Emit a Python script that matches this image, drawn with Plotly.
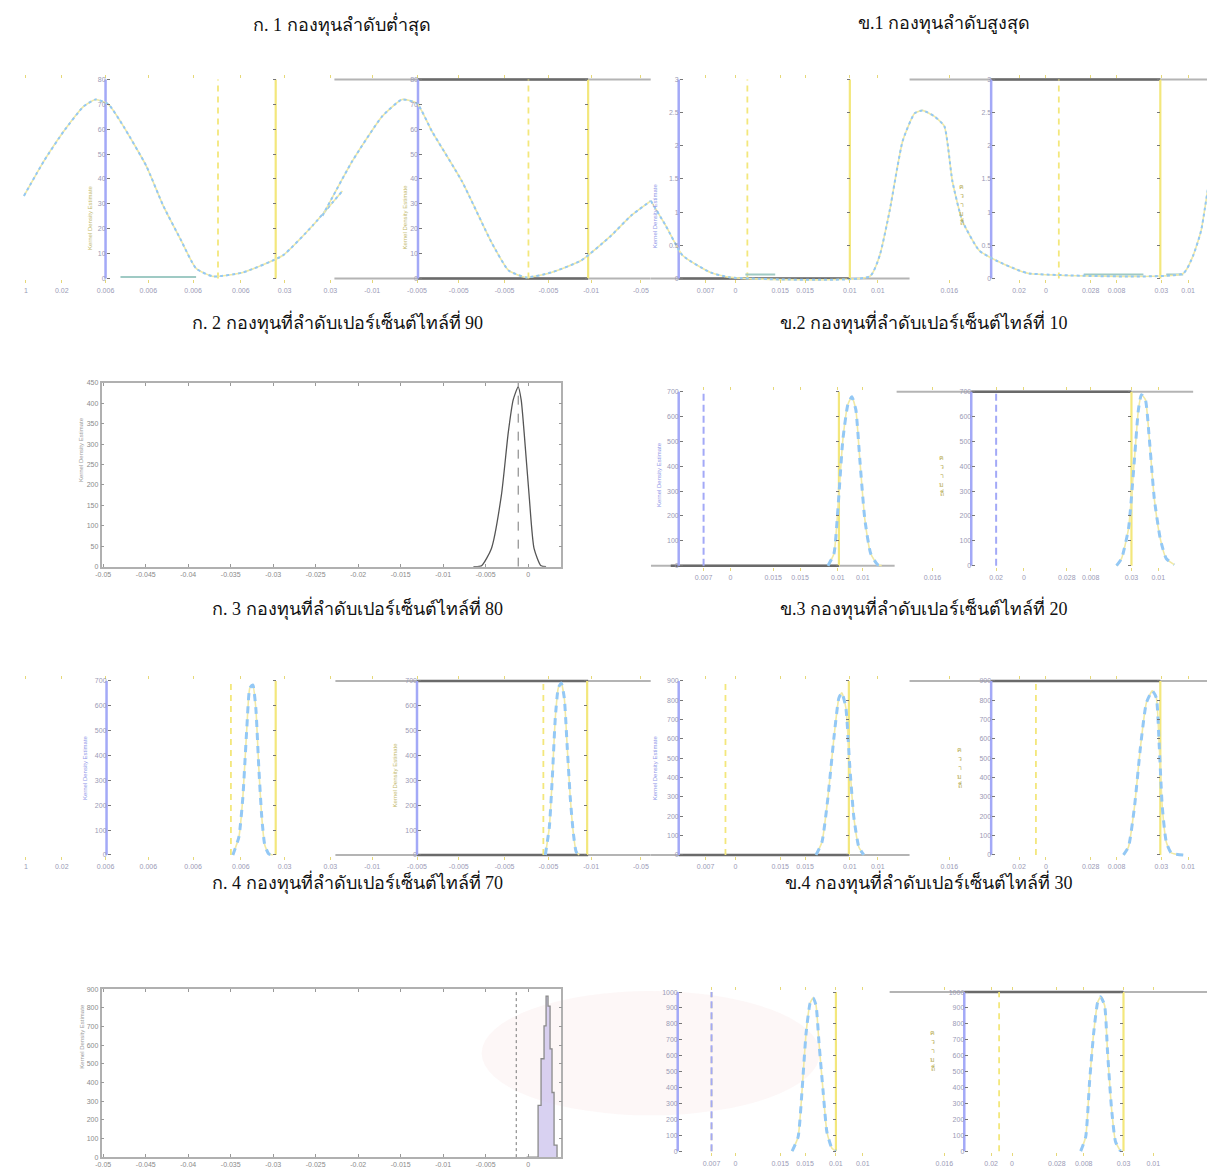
import plotly.graph_objects as go

W, H = 1215, 1169

# ======================= DATA =======================
titles = ["ก. 1 กองทุนลำดับต่ำสุด", "ข.1 กองทุนลำดับสูงสุด",
          "ก. 2 กองทุนที่ลำดับเปอร์เซ็นต์ไทล์ที่ 90", "ข.2 กองทุนที่ลำดับเปอร์เซ็นต์ไทล์ที่ 10",
          "ก. 3 กองทุนที่ลำดับเปอร์เซ็นต์ไทล์ที่ 80", "ข.3 กองทุนที่ลำดับเปอร์เซ็นต์ไทล์ที่ 20",
          "ก. 4 กองทุนที่ลำดับเปอร์เซ็นต์ไทล์ที่ 70", "ข.4 กองทุนที่ลำดับเปอร์เซ็นต์ไทล์ที่ 30"]

# --- row 1 (ก.1 / ข.1) density curves ---
r1l_c1_x = [10, 30, 50, 70, 82, 95, 110, 133, 150, 167, 183, 200, 230, 270, 300, 330]
r1l_c1_y = [33.2, 47.2, 59.2, 69.2, 72, 70, 61.2, 45.2, 29.2, 16, 4, 0.8, 2.4, 9.2, 21.2, 35.2]
r1l_c2_x = [310, 340, 370, 390, 405, 420, 450, 480, 497, 515, 540, 570, 600, 620, 640]
r1l_c2_y = [25.2, 47.2, 65.2, 72, 70.4, 59.2, 39.2, 14.4, 3.2, 0.4, 2.4, 7.2, 17.2, 25.2, 31.2]
r1r_c_x = [0, 15, 32, 60, 80, 220, 230, 240, 253, 265, 273, 285, 295, 303, 313, 330, 347, 370, 380, 535, 545, 553, 563, 575]
r1r_c_y = [31.2, 21.2, 9.2, 2.4, 0.4, 0.8, 9.2, 27.2, 55.2, 66.4, 67.6, 65.2, 61.2, 39.2, 23.2, 11.2, 7.2, 3.2, 2, 2, 9.2, 19.2, 43.2, 57.2]
r1l_flat_x = [107, 183]
r1l_flat_y = [0.6, 0.6]
r1r_flat1_x = [95, 125]
r1r_flat2_x = [435, 495]
r1r_flat3_x = [518, 535]
r1r_flat_y = [1.6, 1.6]

# --- row 2 left (ก.2) ---
a2_x = [-0.00644, -0.0055, -0.00433, -0.00316, -0.00234, -0.00176, -0.00117, -0.00082, -0.00047, 0.00012, 0.0007, 0.00152, 0.00211]
a2_y = [0, 2, 44, 173, 328, 408, 440, 408, 328, 173, 44, 2, 0]
a2_mode = -0.00117

# --- row 4 left (ก.4) ---
a4_x = [-0.00018, 0.00117, 0.00152, 0.00187, 0.00211, 0.00234, 0.00258, 0.00281, 0.00305, 0.0034]
a4_y = [0, 277, 527, 703, 862, 809, 580, 346, 64, 0]
a4_mode = -0.0014

box_xticks = [-0.05, -0.045, -0.04, -0.035, -0.03, -0.025, -0.02, -0.015, -0.01, -0.005, 0]
box_xtext = ["-0.05", "-0.045", "-0.04", "-0.035", "-0.03", "-0.025", "-0.02", "-0.015", "-0.01", "-0.005", "0"]

# --- row 2 right (ข.2) ---
r2r_c1_x = [178, 184, 188, 193, 198, 202, 206, 210, 215, 221, 228, 232]
r2r_c1_y = [0, 48, 228, 508, 648, 680, 628, 428, 188, 48, 4, 0]
r2r_c2_x = [468, 473, 480, 486, 490, 493, 497, 501, 506, 512, 518, 526]
r2r_c2_y = [0, 28, 148, 428, 628, 688, 668, 508, 268, 108, 28, 4]

# --- row 3 (ก.3 / ข.3) ---
r3l_c1_x = [220, 226, 230, 234, 237, 240, 243, 246, 249, 252, 256, 260]
r3l_c1_y = [0, 72, 232, 512, 672, 684, 592, 352, 152, 40, 4, 0]
r3l_c2_x = [534, 538, 541, 544, 547, 550, 553, 556, 559, 562, 565, 568]
r3l_c2_y = [0, 112, 312, 552, 672, 692, 632, 432, 232, 92, 12, 0]
r3r_c1_x = [166, 172, 178, 184, 189, 192, 196, 200, 204, 209, 214]
r3r_c1_y = [0, 52, 232, 472, 632, 652, 592, 352, 152, 32, 0]
r3r_c2_x = [475, 480, 486, 492, 498, 504, 508, 511, 514, 518, 523, 535]
r3r_c2_y = [0, 32, 192, 432, 612, 660, 632, 432, 192, 52, 8, 0]

# --- row 4 right (ข.4) ---
r4r_c1_x = [142, 148, 152, 156, 160, 163, 166, 169, 173, 177, 182, 186]
r4r_c1_y = [0, 89, 385, 740, 929, 964, 917, 680, 385, 118, 18, 0]
r4r_c2_x = [432, 437, 441, 445, 449, 452, 456, 459, 463, 467, 472]
r4r_c2_y = [0, 89, 444, 740, 935, 970, 917, 621, 266, 59, 0]

# --- reference lines per strip (strip x units) ---
r1l_blue = [92, 406]; r1l_ydash = [205, 517]; r1l_ysol = [263, 577]
r1r_blue = [28, 342]; r1r_ydash = [97, 410]; r1r_ysol = [200, 512]
r2r_blue = [28, 322]; r2r_bdash = [53, 347]; r2r_ysol = [189, 483]
r3l_blue = [93, 405]; r3l_ydash = [218, 532]; r3l_ysol = [263, 576]
r3r_blue = [28, 342]; r3r_ydash = [75, 387]; r3r_ysol = [199, 512]
r4r_blue = [27, 315]; r4r_ydash = [61, 350]; r4r_bdash = [61]; r4r_ysol = [186, 475]

# --- frame segments (x extents) ---
r1l_top_gray = [322, 640]; r1l_top_dark = [406, 577]; r1l_bot_gray = [322, 640]; r1l_bot_dark = [406, 577]
r1r_top_gray = [260, 575]; r1r_top_dark = [342, 512]; r1r_bot_gray = [0, 260]; r1r_bot_dark = [28, 200]
r2r_top_gray = [247, 545]; r2r_top_dark = [322, 483]; r2r_bot_gray = [0, 245]; r2r_bot_dark = [20, 189]
r3l_top_gray = [323, 640]; r3l_top_dark = [405, 577]; r3l_bot_gray = [323, 640]; r3l_bot_dark = [405, 577]
r3r_top_gray = [260, 575]; r3r_top_dark = [342, 512]; r3r_bot_gray = [0, 260]; r3r_bot_dark = [28, 199]
r4r_top_gray = [240, 575]; r4r_top_dark = [315, 475]

# --- strip tick labels ---
left_tv = [12, 48, 92, 135, 180, 228, 272, 318, 360, 405, 447, 493, 537, 580, 630]
left_tt = ["1", "0.02", "0.006", "0.006", "0.006", "0.006", "0.03", "0.03", "-0.01", "-0.005", "-0.005", "-0.005", "-0.005", "-0.01", "-0.05"]
right_tv = [55, 85, 130, 155, 200, 228, 300, 370, 397, 442, 468, 513, 540]
right_tt = ["0.007", "0", "0.015", "0.015", "0.01", "0.01", "0.016", "0.02", "0", "0.028", "0.008", "0.03", "0.01"]
r2r_tv = [53, 80, 123, 150, 188, 213, 283, 347, 375, 418, 442, 483, 510]
r4r_tv = [61, 85, 130, 155, 186, 213, 295, 342, 363, 408, 435, 475, 505]

# ======================= FIGURE =======================
fig = go.Figure()
layout = dict(width=W, height=H, margin=dict(l=0, r=0, t=0, b=0),
              paper_bgcolor="white", plot_bgcolor="rgba(0,0,0,0)",
              showlegend=False, annotations=[], shapes=[])

BLUE = "#a3a9f7"
YEL = "#f3e77c"
CURVE_B = "#93c8f5"
CURVE_Y = "#f1e9a4"
DARK = "#6a6a6a"
GRAY = "#b4b4b4"
TEAL = "#9fcac4"
TFONT = dict(family="Liberation Sans, Arial", size=7, color="#9a9ab6")

cnt = [0]


def new_id():
    cnt[0] += 1
    return "" if cnt[0] == 1 else str(cnt[0])


PADPX = 5


def padded(yr, ypx):
    span = ypx[1] - ypx[0]
    f = PADPX / span
    d = yr[1] - yr[0]
    return [yr[0] - f * d, yr[1] + f * d]


def strip(xpx, ypx, xr, yr, tv=None, tt=None):
    s = new_id()
    layout["xaxis" + s] = dict(domain=[xpx[0] / W, xpx[1] / W], range=xr, anchor="y" + s,
                               showgrid=False, zeroline=False, showline=True,
                               linecolor="rgba(0,0,0,0)", mirror="ticks",
                               tickvals=tv, ticktext=tt, ticks="inside", ticklen=3,
                               tickcolor="#e6d878", tickfont=TFONT,
                               showticklabels=tv is not None, fixedrange=True)
    layout["yaxis" + s] = dict(domain=[1 - (ypx[1] + PADPX) / H, 1 - (ypx[0] - PADPX) / H],
                               range=padded(yr, ypx), anchor="x" + s, showgrid=False,
                               zeroline=False, showline=False, showticklabels=False,
                               ticks="", fixedrange=True)
    return "x" + s, "y" + s


def overlay_y(xref, yref, pos_px, yr, ypx, dtick, side="left", labels=True, col="#9a9ab6"):
    s = new_id()
    layout["yaxis" + s] = dict(overlaying=yref, anchor="free", position=min(pos_px / W, 1), side=side,
                               range=padded(yr, ypx), tick0=0, dtick=dtick, ticks="inside",
                               ticklen=3, tickcolor="#777", showticklabels=labels,
                               tickfont=dict(family="Liberation Sans, Arial", size=7, color=col),
                               showgrid=False, zeroline=False, showline=False, fixedrange=True)
    fig.add_trace(go.Scatter(x=[None], y=[None], xaxis=xref, yaxis="y" + s,
                             mode="lines", hoverinfo="skip", showlegend=False))


def line(xref, yref, x, y, color, width, dash="solid", shape="linear", fill=None,
         fillcolor=None, smoothing=0.6):
    ld = dict(color=color, width=width, dash=dash, shape=shape)
    if shape == "spline":
        ld["smoothing"] = smoothing
    fig.add_trace(go.Scatter(x=x, y=y, xaxis=xref, yaxis=yref, mode="lines", line=ld,
                             fill=fill, fillcolor=fillcolor, hoverinfo="skip", showlegend=False))


def curve(xref, yref, x, y, dotted=False):
    line(xref, yref, x, y, CURVE_Y, 1.6, shape="spline", smoothing=0.5)
    if dotted:
        line(xref, yref, x, y, CURVE_B, 2, dash="dot", shape="spline", smoothing=0.5)
    else:
        line(xref, yref, x, y, CURVE_B, 3, dash="7px,6px", shape="spline", smoothing=0.5)


def vlines(xref, yref, xs, yr, color, width, dash="solid"):
    for v in xs:
        line(xref, yref, [v, v], yr, color, width, dash)


def hseg(xref, yref, seg, yv, color, width):
    line(xref, yref, seg, [yv, yv], color, width)


def build_strip(xpx, ypx, xr, yr, tv, tt, blue, ysol, ydash=(), bdash=(),
                top_gray=None, top_dark=None, bot_gray=None, bot_dark=None,
                ylab_range=None, ylab_dtick=None):
    xa, ya = strip(xpx, ypx, xr, yr, tv, tt)
    if top_gray: hseg(xa, ya, top_gray, yr[1], GRAY, 2)
    if bot_gray: hseg(xa, ya, bot_gray, yr[0], GRAY, 2)
    if top_dark: hseg(xa, ya, top_dark, yr[1], DARK, 2.5)
    if bot_dark: hseg(xa, ya, bot_dark, yr[0], DARK, 2.5)
    vlines(xa, ya, blue, yr, BLUE, 2.5)
    vlines(xa, ya, ysol, yr, YEL, 2.2)
    vlines(xa, ya, ydash, yr, YEL, 1.8, "6px,5px")
    vlines(xa, ya, bdash, yr, BLUE, 2, "7px,4px")
    for b in blue:
        overlay_y(xa, ya, xpx[0] + (b - xr[0]) / (xr[1] - xr[0]) * (xpx[1] - xpx[0]),
                  ylab_range, ypx, ylab_dtick, "left", True)
    for ysx in ysol:
        overlay_y(xa, ya, xpx[0] + (ysx - xr[0]) / (xr[1] - xr[0]) * (xpx[1] - xpx[0]),
                  ylab_range, ypx, ylab_dtick, "right", False)
    return xa, ya


# ---------------- Row 1 ----------------
xa, ya = build_strip([0, 640], [68, 268], [0, 640], [0, 80], left_tv, left_tt,
                     r1l_blue, r1l_ysol, r1l_ydash, (), r1l_top_gray, r1l_top_dark,
                     r1l_bot_gray, r1l_bot_dark, [0, 80], 10)
line(xa, ya, r1l_flat_x, r1l_flat_y, TEAL, 2)
curve(xa, ya, r1l_c1_x, r1l_c1_y, dotted=True)
curve(xa, ya, r1l_c2_x, r1l_c2_y, dotted=True)

xa, ya = build_strip([640, 1215], [68, 268], [0, 575], [0, 80], right_tv, right_tt,
                     r1r_blue, r1r_ysol, r1r_ydash, (), r1r_top_gray, r1r_top_dark,
                     r1r_bot_gray, r1r_bot_dark, [0, 3], 0.5)
for fx in (r1r_flat1_x, r1r_flat2_x, r1r_flat3_x):
    line(xa, ya, fx, r1r_flat_y, TEAL, 2)
curve(xa, ya, r1r_c_x, r1r_c_y, dotted=True)


# ---------------- Row 2 left: ก.2 ----------------
def boxed(xpx, ypx, xr, yr, dtick):
    s = new_id()
    tf = dict(family="Liberation Sans, Arial", size=7, color="#8a8a8a")
    layout["xaxis" + s] = dict(domain=[xpx[0] / W, xpx[1] / W], range=xr, anchor="y" + s,
                               showgrid=False, zeroline=False, showline=True, linecolor="#b0b0b0",
                               linewidth=1.5, mirror="ticks", tickvals=box_xticks, ticktext=box_xtext,
                               ticks="inside", ticklen=3, tickcolor="#999", tickfont=tf,
                               fixedrange=True)
    layout["yaxis" + s] = dict(domain=[1 - ypx[1] / H, 1 - ypx[0] / H], range=yr, anchor="x" + s,
                               showgrid=False, zeroline=False, showline=True, linecolor="#b0b0b0",
                               linewidth=1.5, mirror="ticks", tick0=0, dtick=dtick, ticks="inside",
                               ticklen=3, tickcolor="#999", tickfont=tf, fixedrange=True)
    return "x" + s, "y" + s


xa, ya = boxed([88, 550], [373, 558], [-0.0502, 0.0039], [0, 450], 50)
line(xa, ya, [a2_mode, a2_mode], [0, 450], "#777", 1, "dash")
line(xa, ya, a2_x, a2_y, "#555", 1.3, shape="spline", smoothing=0.6)

# ---------------- Row 2 right: ข.2 ----------------
xa, ya = build_strip([640, 1215], [382, 557], [0, 575], [0, 700], r2r_tv, right_tt,
                     r2r_blue, r2r_ysol, (), r2r_bdash, r2r_top_gray, r2r_top_dark,
                     r2r_bot_gray, r2r_bot_dark, [0, 700], 100)
curve(xa, ya, r2r_c1_x, r2r_c1_y)
curve(xa, ya, r2r_c2_x, r2r_c2_y)

# ---------------- Row 3 ----------------
xa, ya = build_strip([0, 640], [673, 848], [0, 640], [0, 700], left_tv, left_tt,
                     r3l_blue, r3l_ysol, r3l_ydash, (), r3l_top_gray, r3l_top_dark,
                     r3l_bot_gray, r3l_bot_dark, [0, 700], 100)
curve(xa, ya, r3l_c1_x, r3l_c1_y)
curve(xa, ya, r3l_c2_x, r3l_c2_y)

xa, ya = build_strip([640, 1215], [673, 848], [0, 575], [0, 700], right_tv, right_tt,
                     r3r_blue, r3r_ysol, r3r_ydash, (), r3r_top_gray, r3r_top_dark,
                     r3r_bot_gray, r3r_bot_dark, [0, 900], 100)
curve(xa, ya, r3r_c1_x, r3r_c1_y)
curve(xa, ya, r3r_c2_x, r3r_c2_y)

# ---------------- Row 4 left: ก.4 ----------------
xa, ya = boxed([88, 550], [983, 1152], [-0.0502, 0.0039], [0, 900], 100)
line(xa, ya, [a4_mode, a4_mode], [0, 900], "#777", 1, "dot")
line(xa, ya, a4_x, a4_y, "#8a8a8a", 1.3, shape="hv", fill="tozeroy", fillcolor="rgba(200,190,235,0.7)")

# ---------------- Row 4 right: ข.4 ----------------
xa, ya = build_strip([640, 1215], [986, 1146], [0, 575], [0, 1000], r4r_tv, right_tt,
                     r4r_blue, r4r_ysol, r4r_ydash, r4r_bdash, r4r_top_gray, r4r_top_dark,
                     None, None, [0, 1000], 100)
curve(xa, ya, r4r_c1_x, r4r_c1_y)
curve(xa, ya, r4r_c2_x, r4r_c2_y)

# ---------------- titles ----------------
title_pos = [(330, 12), (935, 12), (325, 312), (915, 312), (345, 600), (915, 600), (345, 875), (920, 875)]
for t, (px, py) in zip(titles, title_pos):
    layout["annotations"].append(dict(text=t, x=px / W, y=1 - py / H, xref="paper", yref="paper",
                                      showarrow=False, xanchor="center", yanchor="middle",
                                      font=dict(family="Liberation Serif, Times New Roman, serif",
                                                size=18, color="#111")))

# ---------------- y-axis titles ----------------
ylab_rot = [(72, 172, "#c2b96a"), (388, 172, "#c2b96a"), (645, 170, "#8f96e8"),
            (63, 440, "#9a9a9a"), (648, 465, "#8f96e8"),
            (67, 760, "#8f96e8"), (378, 768, "#c2b96a"), (645, 760, "#8f96e8"),
            (63, 1065, "#9a9a9a")]
for px, py, col in ylab_rot:
    layout["annotations"].append(dict(text="Kernel Density Estimate", x=px / W, y=1 - py / H,
                                      xref="paper", yref="paper", showarrow=False, textangle=-90,
                                      font=dict(family="Liberation Sans, Arial", size=6, color=col)))
for px, py in [(957, 170), (937, 466), (955, 760), (928, 1068)]:
    layout["annotations"].append(dict(text="ค<br>ว<br>า<br>ม<br>ถี่", x=px / W, y=1 - py / H,
                                      xref="paper", yref="paper", showarrow=False,
                                      font=dict(family="Liberation Sans, Arial", size=7, color="#b7ad55")))

# ---------------- faint watermark ----------------
layout["shapes"].append(dict(type="circle", xref="paper", yref="paper", layer="below",
                             x0=470 / W, x1=810 / W, y0=1 - 1110 / H, y1=1 - 985 / H,
                             fillcolor="rgba(246,222,222,0.25)", line=dict(width=0)))

fig.update_layout(**layout)
fig.write_html("out.html")
